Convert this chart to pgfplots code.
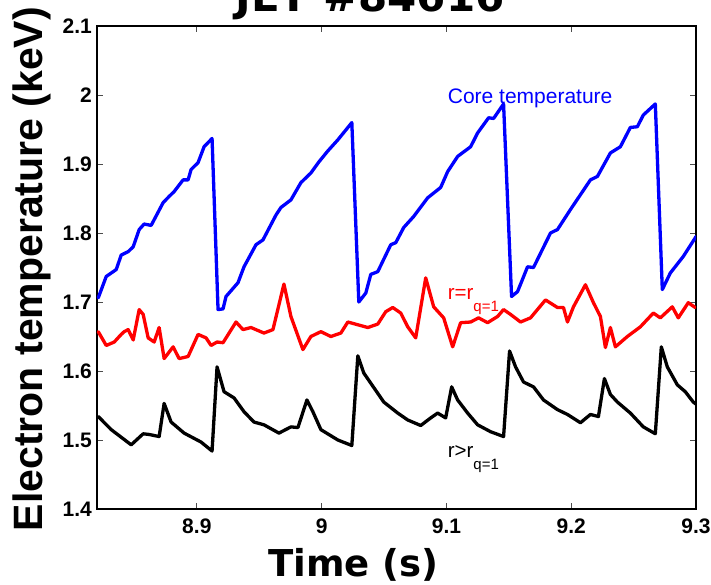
\documentclass[border=0pt]{standalone}
\usepackage{pgfplots}
\pgfplotsset{compat=1.18}
\usepackage{fontspec}
\setmainfont{Liberation Sans}
\newfontfamily\dv{DejaVu Sans}
\usetikzlibrary{calc}

\pgfplotstableread{
t T
8.821 1.706
8.8274 1.737
8.8354 1.747
8.8394 1.768
8.845 1.773
8.849 1.780
8.8538 1.805
8.8578 1.813
8.8634 1.811
8.873 1.844
8.8778 1.853
8.8818 1.860
8.889 1.877
8.893 1.877
8.8954 1.892
8.901 1.902
8.9058 1.925
8.9122 1.937
8.917 1.689
8.921 1.690
8.9234 1.708
8.933 1.728
8.9378 1.751
8.9474 1.783
8.953 1.790
8.9634 1.826
8.9674 1.837
8.9754 1.848
8.9834 1.873
8.9914 1.887
8.9978 1.903
9.005 1.919
9.013 1.935
9.0242 1.960
9.0298 1.700
9.0354 1.713
9.0394 1.740
9.045 1.744
9.0554 1.783
9.0594 1.786
9.0658 1.808
9.0738 1.824
9.085 1.851
9.0954 1.866
9.101 1.889
9.109 1.911
9.1194 1.925
9.125 1.945
9.1338 1.967
9.1378 1.966
9.1458 1.987
9.1522 1.708
9.157 1.715
9.165 1.751
9.1698 1.750
9.1834 1.800
9.189 1.805
9.1994 1.834
9.2154 1.877
9.221 1.882
9.2314 1.916
9.2394 1.925
9.2474 1.953
9.253 1.954
9.2578 1.971
9.2674 1.987
9.273 1.718
9.2794 1.742
9.2898 1.766
9.2994 1.793
9.3 1.795
}\core

\pgfplotstableread{
t T
8.821 1.657
8.8274 1.637
8.8338 1.642
8.8394 1.653
8.8418 1.657
8.845 1.660
8.849 1.645
8.8538 1.689
8.857 1.682
8.861 1.648
8.8658 1.642
8.8698 1.663
8.8738 1.618
8.881 1.635
8.8858 1.618
8.893 1.621
8.901 1.653
8.9074 1.648
8.9114 1.637
8.9162 1.642
8.921 1.641
8.9314 1.671
8.937 1.660
8.9434 1.663
8.9538 1.655
8.961 1.660
8.9698 1.726
8.9754 1.679
8.9802 1.655
8.985 1.631
8.9914 1.650
8.9994 1.657
9.0074 1.650
9.0154 1.655
9.021 1.671
9.029 1.667
9.037 1.663
9.045 1.668
9.0514 1.686
9.057 1.692
9.0634 1.684
9.069 1.664
9.0754 1.648
9.0834 1.735
9.0898 1.693
9.0978 1.677
9.105 1.635
9.1114 1.670
9.1194 1.671
9.1258 1.677
9.133 1.670
9.141 1.679
9.1458 1.689
9.1514 1.682
9.1594 1.671
9.1674 1.677
9.1794 1.703
9.189 1.692
9.1938 1.692
9.197 1.671
9.2018 1.693
9.2114 1.725
9.2178 1.699
9.2234 1.679
9.2274 1.634
9.2314 1.663
9.2354 1.635
9.245 1.650
9.2554 1.664
9.2658 1.684
9.2714 1.677
9.281 1.693
9.2858 1.677
9.2938 1.699
9.2994 1.692
}\qone

\pgfplotstableread{
t T
8.821 1.534
8.8314 1.515
8.8474 1.493
8.857 1.509
8.8618 1.508
8.8698 1.505
8.8738 1.553
8.8794 1.526
8.8898 1.510
8.9034 1.497
8.9122 1.484
8.9162 1.606
8.9218 1.570
8.9298 1.561
8.9378 1.541
8.9458 1.526
8.9538 1.522
8.9658 1.510
8.9754 1.519
8.981 1.518
8.9882 1.558
8.993 1.541
8.9994 1.515
9.013 1.500
9.0242 1.492
9.029 1.622
9.0338 1.597
9.0418 1.576
9.0498 1.555
9.061 1.539
9.069 1.529
9.0794 1.521
9.0874 1.532
9.093 1.539
9.0994 1.532
9.1042 1.577
9.109 1.558
9.117 1.539
9.125 1.522
9.1354 1.512
9.1458 1.505
9.1506 1.629
9.1554 1.606
9.1618 1.584
9.1698 1.577
9.1778 1.558
9.189 1.544
9.197 1.537
9.2074 1.525
9.2154 1.537
9.2218 1.534
9.2266 1.589
9.2314 1.566
9.237 1.555
9.2474 1.539
9.2578 1.519
9.2674 1.509
9.2722 1.635
9.277 1.606
9.285 1.580
9.2914 1.570
9.2978 1.555
9.3 1.552
}\outer

\begin{document}
\begin{tikzpicture}
\begin{axis}[
  name=ax,
  scale only axis,
  width=599pt, height=483pt,
  xmin=8.82, xmax=9.3,
  ymin=1.4, ymax=2.1,
  xtick={8.9,9,9.1,9.2,9.3},
  ytick={1.4,1.5,1.6,1.7,1.8,1.9,2.0,2.1},
  xticklabels={8.9,9,9.1,9.2,9.3},
  yticklabels={1.4,1.5,1.6,1.7,1.8,1.9,2,2.1},
  tick align=inside,
  major tick length=6pt,
  tick style={gray!60!black, line width=0.9pt},
  axis line style={black, line width=1.2pt},
  ticklabel style={font=\fontsize{21}{21}\selectfont\bfseries},
  xticklabel style={inner sep=0pt, anchor=north, yshift=-10pt},
  yticklabel style={inner sep=0pt, anchor=east, xshift=-5pt},
  /pgf/number format/assume math mode=true,
  every axis plot/.append style={line width=3.3pt, line join=round, line cap=round},
]
\addplot[blue, no markers] table[x=t, y=T] {\core};
\addplot[red, no markers] table[x=t, y=T] {\qone};
\addplot[black, no markers] table[x=t, y=T] {\outer};

\node[anchor=base west, inner sep=0pt, text=blue, font=\fontsize{21}{21}\selectfont] at (axis cs:9.101,1.988) {Core temperature};
\node[anchor=base west, inner sep=0pt, text=red, font=\fontsize{20.5}{20.5}\selectfont] at (axis cs:9.101,1.703) {r=r\raisebox{-12pt}{\fontsize{15}{15}\selectfont q=1}};
\node[anchor=base west, inner sep=0pt, text=black, font=\fontsize{20.5}{20.5}\selectfont] at (axis cs:9.101,1.474) {r>r\raisebox{-12pt}{\fontsize{15}{15}\selectfont q=1}};
\end{axis}

\node[anchor=base, inner sep=0pt, font=\dv\bfseries\fontsize{42}{42}\selectfont] at ([xshift=273pt, yshift=14pt]ax.north west) {JET \#84616};
\node[anchor=base, inner sep=0pt, font=\dv\bfseries\fontsize{37}{37}\selectfont] at ([xshift=256.5pt, yshift=-68pt]ax.south west) {Time (s)};
\node[anchor=base, rotate=90, inner sep=0pt, font=\bfseries\fontsize{41}{41}\selectfont] at ([xshift=-54pt, yshift=-1.5pt]ax.west) {Electron temperature (keV)};

\pgfresetboundingbox
\path[use as bounding box] ([xshift=-97pt, yshift=-76pt]ax.south west) rectangle ([xshift=15pt, yshift=26pt]ax.north east);
\end{tikzpicture}
\end{document}
